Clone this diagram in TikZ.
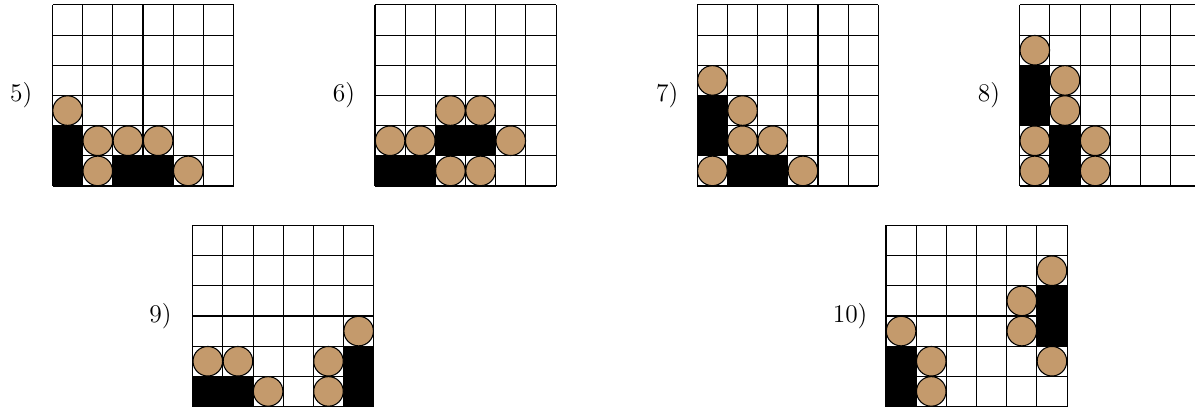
\documentclass[tikz,border=0pt]{standalone}
\definecolor{beadcol}{RGB}{196,154,108}
\tikzset{
  cellline/.style={line width=0.5pt, draw=black},
  bead/.style={draw=black, fill=beadcol, line width=0.5pt},
  blk/.style={fill=black},
  lbl/.style={inner sep=1pt, font=\large}
}
% #1 left px, #2 bottom px, #3 node name, #4 label, #5 label x offset (cells), #6 black cells, #7 beads
\newcommand\myboard[7]{%
  \begin{scope}[shift={(#1,#2)}, x=14.226pt, y=14.226pt]
    \foreach \i in {0,...,6} {
      \draw[cellline] (\i,0) -- (\i,6);
      \draw[cellline] (0,\i) -- (6,\i);
    }
    \foreach \c/\r in {#6} \fill[blk] (\c,\r) rectangle ++(1,1);
    \foreach \c/\r in {#7} \draw[bead] (\c+0.5,\r+0.5) circle (0.49);
    \node[lbl] (#3) at (#5,3) {#4};
  \end{scope}}
\begin{document}
\begin{tikzpicture}[x=0.4715pt, y=-0.4715pt]
  \useasboundingbox (0,0) rectangle (1195,409);
  \myboard{52.5}{186}{l5}{5)}{-1.04}{0/0,0/1,2/0,3/0}{0/2,1/1,2/1,3/1,1/0,4/0}
  \myboard{375}{186}{l6}{6)}{-1.03}{0/0,1/0,2/1,3/1}{2/2,3/2,0/1,1/1,4/1,2/0,3/0}
  \myboard{697.3}{186}{l7}{7)}{-1.0}{0/1,0/2,1/0,2/0}{0/3,1/2,1/1,2/1,0/0,3/0}
  \myboard{1019.7}{186}{l8}{8)}{-1.02}{0/2,0/3,1/0,1/1}{0/4,1/3,1/2,0/1,0/0,2/1,2/0}
  \myboard{192.7}{406.5}{l9}{9)}{-1.07}{0/0,1/0,5/0,5/1}{0/1,1/1,2/0,4/1,4/0,5/2}
  \myboard{886}{406.5}{l10}{10)}{-1.19}{0/0,0/1,5/2,5/3}{0/2,1/1,1/0,4/3,4/2,5/4,5/1}
\end{tikzpicture}
\end{document}
